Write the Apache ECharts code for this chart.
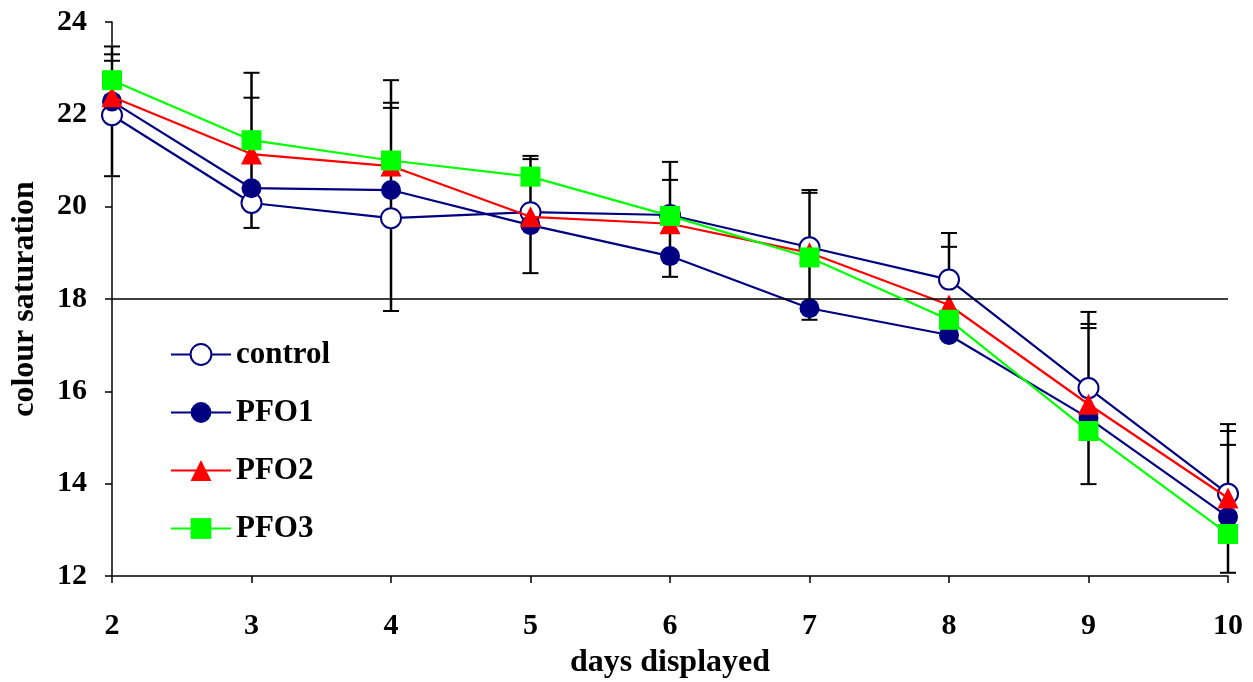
<!DOCTYPE html>
<html>
<head>
<meta charset="utf-8">
<script src="https://cdn.jsdelivr.net/npm/echarts@6/dist/echarts.min.js"></script>
<style>
  html, body { margin: 0; padding: 0; background: #fff; }
  #chart { width: 1253px; height: 682px; }
</style>
</head>
<body>
<div id="chart"></div>
<script>
// days on the x axis
const days = [2, 3, 4, 5, 6, 7, 8, 9, 10];

// series values
const control = [21.98, 20.08, 19.75, 19.88, 19.82, 19.12, 18.42, 16.07, 13.78];
const pfo1 = [22.28, 20.40, 20.36, 19.60, 18.93, 17.80, 17.22, 15.42, 13.28];
const pfo2 = [22.38, 21.14, 20.88, 19.78, 19.63, 19.00, 17.87, 15.72, 13.69];
const pfo3 = [22.74, 21.44, 21.00, 20.65, 19.80, 18.90, 17.55, 15.14, 12.91];

// error bar ends (black whiskers), one lower end and a few upper caps per day
const errLow = [20.66, 19.54, 17.74, 18.56, 18.48, 17.55, 18.42, 13.99, 12.07];
const errCaps = [
    [23.47, 23.30, 23.16],
    [22.90, 22.36],
    [22.74, 22.25, 22.14],
    [21.10, 21.03],
    [20.97, 20.58],
    [20.36, 20.30],
    [19.43, 19.13],
    [17.72, 17.46, 17.37],
    [15.29, 15.14, 14.84],
];

// reference line
const refLine = 18;

const font = 'Liberation Serif';
const navy = '#000080';

const pairs = (vals) => days.map((d, i) => [d, vals[i]]);

const chart = echarts.init(document.getElementById('chart'));

const option = {
    animation: false,
    grid: { left: 112, right: 25, top: 22, bottom: 106, outerBoundsMode: 'none', containLabel: false },
    legend: {
        orient: 'vertical',
        left: 170,
        top: 339,
        padding: 0,
        itemWidth: 60,
        itemHeight: 26,
        itemGap: 27,
        textStyle: { fontFamily: font, fontWeight: 'bold', fontSize: 31, color: '#000' },
        data: ['control', 'PFO1', 'PFO2', 'PFO3'],
    },
    xAxis: {
        type: 'value',
        min: 2,
        max: 10,
        interval: 1,
        name: 'days displayed',
        nameLocation: 'middle',
        nameGap: 71,
        nameTextStyle: { fontFamily: font, fontWeight: 'bold', fontSize: 32, color: '#000' },
        axisLine: { lineStyle: { color: '#000', width: 1.5 } },
        axisTick: { length: 7, lineStyle: { color: '#000', width: 1.5 } },
        axisLabel: { margin: 35, fontFamily: font, fontWeight: 'bold', fontSize: 30, color: '#000' },
        splitLine: { show: false },
    },
    yAxis: {
        type: 'value',
        min: 12,
        max: 24,
        interval: 2,
        name: 'colour saturation',
        nameLocation: 'middle',
        nameGap: 71,
        nameTextStyle: { fontFamily: font, fontWeight: 'bold', fontSize: 32, color: '#000' },
        axisLine: { lineStyle: { color: '#000', width: 1.5 } },
        axisTick: { length: 7, lineStyle: { color: '#000', width: 1.5 } },
        axisLabel: { margin: 25, fontFamily: font, fontWeight: 'bold', fontSize: 30, color: '#000' },
        splitLine: { show: false },
    },
    series: [
        {
            name: 'errorbars',
            type: 'custom',
            z: 1,
            data: days.map((d, i) => [d, errLow[i]]),
            renderItem: (params, api) => {
                const i = params.dataIndex;
                const x = days[i];
                const top = Math.max.apply(null, errCaps[i]);
                const p0 = api.coord([x, errLow[i]]);
                const p1 = api.coord([x, top]);
                const children = [{
                    type: 'line',
                    shape: { x1: p0[0], y1: p0[1], x2: p1[0], y2: p1[1] },
                    style: { stroke: '#000', lineWidth: 2.5 },
                }];
                [errLow[i]].concat(errCaps[i]).forEach((v) => {
                    const p = api.coord([x, v]);
                    children.push({
                        type: 'line',
                        shape: { x1: p[0] - 8, y1: p[1], x2: p[0] + 8, y2: p[1] },
                        style: { stroke: '#000', lineWidth: 2 },
                    });
                });
                return { type: 'group', children };
            },
            markLine: {
                silent: true,
                symbol: 'none',
                label: { show: false },
                lineStyle: { color: '#000', width: 1.5, type: 'solid' },
                data: [{ yAxis: refLine }],
            },
        },
        {
            name: 'control',
            type: 'line',
            z: 2,
            data: pairs(control),
            symbol: 'circle',
            symbolSize: 20,
            lineStyle: { color: navy, width: 2.2 },
            itemStyle: { color: '#fff', borderColor: navy, borderWidth: 2 },
        },
        {
            name: 'PFO1',
            type: 'line',
            z: 3,
            data: pairs(pfo1),
            symbol: 'circle',
            symbolSize: 20,
            lineStyle: { color: navy, width: 2.2 },
            itemStyle: { color: navy, borderColor: navy, borderWidth: 0 },
        },
        {
            name: 'PFO2',
            type: 'line',
            z: 4,
            data: pairs(pfo2),
            symbol: 'triangle',
            symbolSize: 21,
            lineStyle: { color: '#ff0000', width: 2.2 },
            itemStyle: { color: '#ff0000', borderWidth: 0 },
        },
        {
            name: 'PFO3',
            type: 'line',
            z: 5,
            data: pairs(pfo3),
            symbol: 'rect',
            symbolSize: 20,
            lineStyle: { color: '#00ff00', width: 2.2 },
            itemStyle: { color: '#00ff00', borderWidth: 0 },
        },
    ],
};

chart.setOption(option);
</script>
</body>
</html>
